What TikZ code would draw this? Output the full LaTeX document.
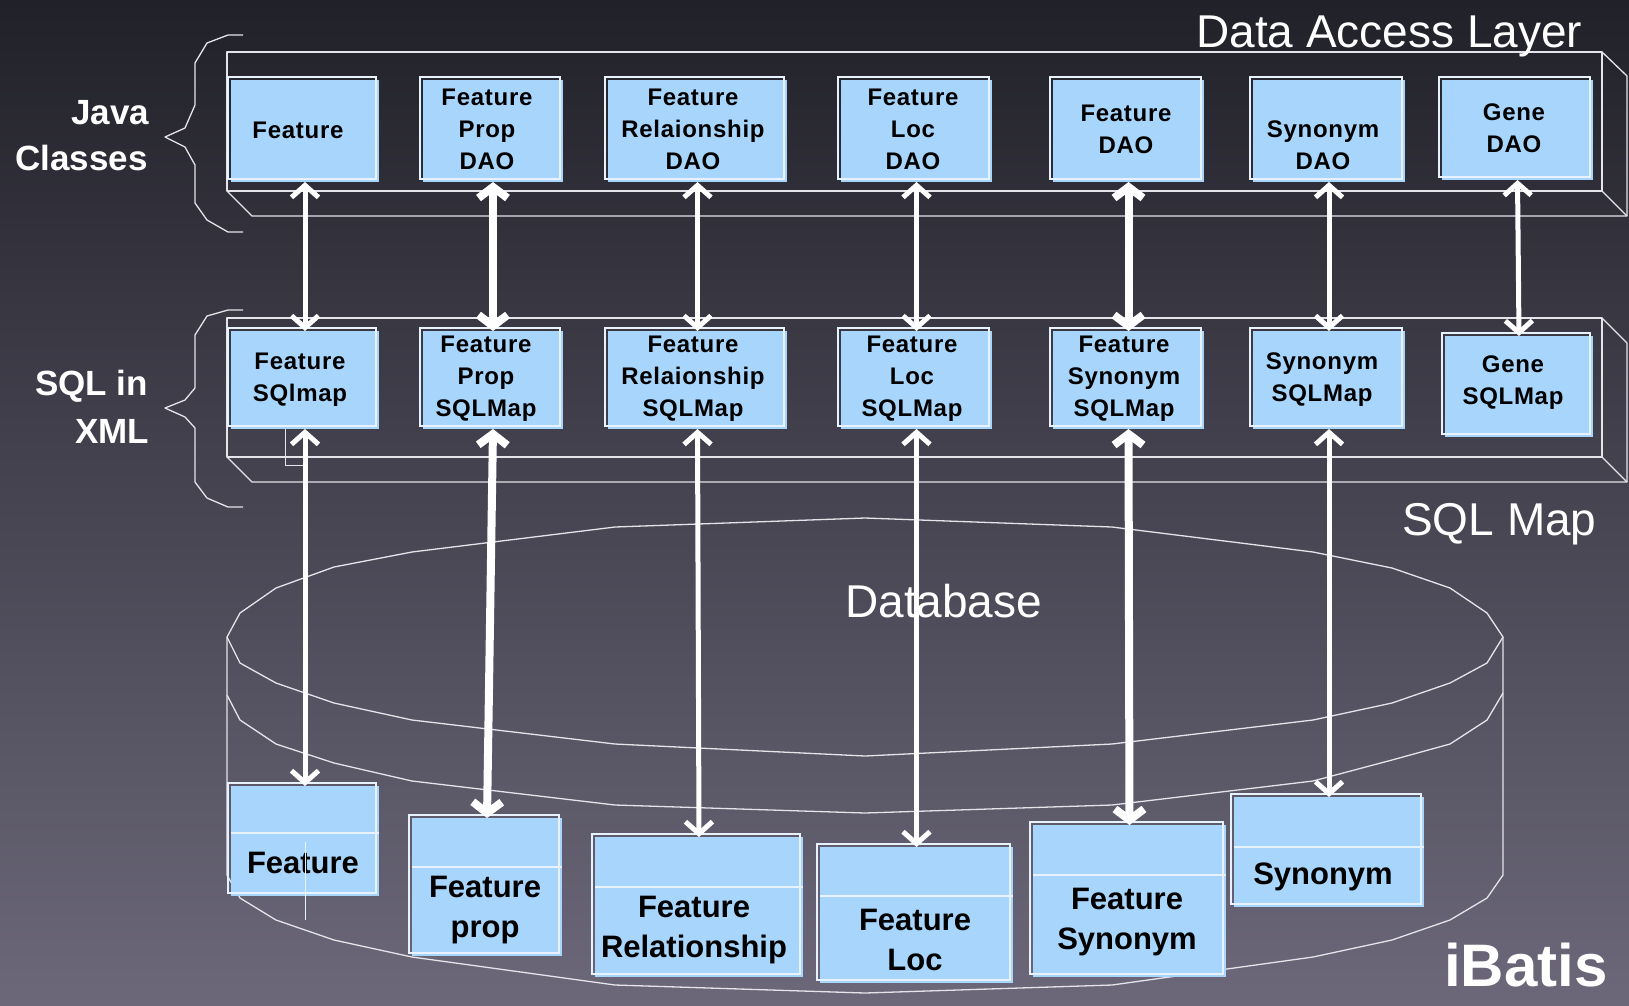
\documentclass[tikz,border=0pt]{standalone}
\usepackage{fontspec}
\setmainfont{Liberation Sans}
\newfontfamily\boxfont[LetterSpace=3]{Liberation Sans}
\usetikzlibrary{arrows.meta}
\definecolor{bgtop}{RGB}{33,33,41}
\definecolor{bgbot}{RGB}{108,104,122}
\definecolor{boxblue}{RGB}{168,213,251}
\definecolor{frameline}{RGB}{228,228,234}
\definecolor{boxedge}{RGB}{232,242,252}
\begin{document}
\begin{tikzpicture}[x=1pt,y=-1pt,
  frame/.style={draw=frameline, line width=1.3pt, line join=round},
  box/.style={fill=boxblue, draw=none, inner sep=0pt, outer sep=0pt},
  boxline/.style={draw=boxedge, line width=1.4pt},
  boxtxt/.style={font=\boxfont\bfseries\fontsize{24}{32}\selectfont, align=center, inner sep=0pt, text=black},
  tabtxt/.style={font=\bfseries\fontsize{31}{40}\selectfont, align=center, inner sep=0pt, text=black},
  sidetxt/.style={font=\bfseries\fontsize{35}{42}\selectfont, text=white, inner sep=0pt},
  titletxt/.style={font=\fontsize{46}{54}\selectfont, text=white, inner sep=0pt},
  arr/.style={draw=white, line width=5pt, {Straight Barb[length=12pt,width=27pt]}-{Straight Barb[length=12pt,width=27pt]}},
  arrthick/.style={draw=white, line width=8pt, {Straight Barb[length=11pt,width=29pt]}-{Straight Barb[length=11pt,width=29pt]}}
]
% background
\useasboundingbox (0,0) rectangle (1629,1005);
\shade[top color=bgtop, bottom color=bgbot] (0,0) rectangle (1629,1005);

% layer frames
\draw[frame] (227,52) rectangle (1602,191);
\draw[frame] (227,191) -- (252,216) -- (1627,216) -- (1627,76) -- (1602,52);
\draw[frame] (1602,191) -- (1627,216);
\draw[frame] (227,318) rectangle (1602,457);
\draw[frame] (227,457) -- (252,482) -- (1627,482) -- (1627,343) -- (1602,318);
\draw[frame] (1602,457) -- (1627,482);

% braces
\draw[frame] (243,35) -- (228,35) -- (207,43) -- (195,63) -- (195,105) -- (185,128) -- (165,137) -- (185,147) -- (195,165) -- (195,203) -- (207,220) -- (228,232) -- (243,232);
\draw[frame] (243,310) -- (228,310) -- (207,316) -- (195,335) -- (195,388) -- (185,400) -- (165,408) -- (185,417) -- (195,428) -- (195,482) -- (207,498) -- (228,507) -- (243,507);

% database cylinder
\draw[frame] (227,637) -- (240,613) -- (276,588) -- (334,567) -- (412,552) -- (615,527) -- (865,518) -- (1112,527) -- (1313,552) -- (1392,568) -- (1450,588) -- (1487,613) -- (1503,637)
  -- (1487,663) -- (1450,683) -- (1392,703) -- (1313,720) -- (1112,744) -- (865,756) -- (615,744) -- (412,720) -- (334,703) -- (276,683) -- (240,663) -- cycle;
\draw[frame] (227,695) -- (240,720) -- (276,744) -- (334,763) -- (412,781) -- (615,805) -- (865,813) -- (1112,805) -- (1313,781) -- (1392,760) -- (1450,744) -- (1487,720) -- (1503,693);
\draw[frame] (227,637) -- (227,875) -- (240,898) -- (276,920) -- (334,940) -- (412,957) -- (615,985) -- (865,993) -- (1112,985) -- (1313,957) -- (1392,940) -- (1450,920) -- (1487,898) -- (1503,875) -- (1503,637);

% titles
\node[titletxt, anchor=base west] (title) at (1196,47) {Data Access Layer};
\node[titletxt, anchor=base west] (sqlmaptitle) at (1402,535) {SQL Map};
\node[titletxt, anchor=base west] (dbtitle) at (845,617) {Database};
\node[font=\bfseries\fontsize{60}{70}\selectfont, text=white, inner sep=0pt, anchor=base west] (ibatis) at (1444,986) {iBatis};
\node[sidetxt, anchor=base west] (java) at (71,124) {Java};
\node[sidetxt, anchor=base west] (classes) at (15,170) {Classes};
\node[sidetxt, anchor=base west] (sqlin) at (35,395) {SQL in};
\node[sidetxt, anchor=base west] (xml) at (75,443) {XML};

% DAO row
\node[box, minimum width=148pt, minimum height=102pt] (d1) at (305,131) {};
\node[box, minimum width=140pt, minimum height=102pt] (d2) at (493,131) {};
\node[box, minimum width=179pt, minimum height=102pt] (d3) at (697.5,131) {};
\node[box, minimum width=151pt, minimum height=102pt] (d4) at (916.5,131) {};
\node[box, minimum width=151pt, minimum height=102pt] (d5) at (1128.5,131) {};
\node[box, minimum width=152pt, minimum height=102pt] (d6) at (1329,131) {};
\node[box, minimum width=151pt, minimum height=100pt] (d7) at (1517.5,130) {};
% SQLMap row
\node[box, minimum width=148pt, minimum height=98pt] (s1) at (305,380) {};
\node[box, minimum width=140pt, minimum height=98pt] (s2) at (493,380) {};
\node[box, minimum width=179pt, minimum height=98pt] (s3) at (697.5,380) {};
\node[box, minimum width=151pt, minimum height=98pt] (s4) at (916.5,380) {};
\node[box, minimum width=151pt, minimum height=98pt] (s5) at (1128.5,380) {};
\node[box, minimum width=152pt, minimum height=98pt] (s6) at (1329,380) {};
\node[box, minimum width=148pt, minimum height=101pt] (s7) at (1519,386.5) {};
% table boxes
\node[box, minimum width=148pt, minimum height=110pt] (t1) at (305,841) {};
\node[box, minimum width=150pt, minimum height=138pt] (t2) at (487,887) {};
\node[box, minimum width=208pt, minimum height=140pt] (t3) at (699,907) {};
\node[box, minimum width=193pt, minimum height=136pt] (t4) at (916.5,915) {};
\node[box, minimum width=193pt, minimum height=152pt] (t5) at (1129.5,901) {};
\node[box, minimum width=190pt, minimum height=110pt] (t6) at (1329,852) {};

% box outlines (offset light frames)
\foreach \n in {d1,d2,d3,d4,d5,d6,d7,s1,s2,s3,s4,s5,s6,s7,t1,t2,t3,t4,t5,t6}
  \draw[boxline] ([shift={(-3,-3)}]\n.north west) rectangle ([shift={(-3,-3)}]\n.south east);

% table dividers
\draw[boxline] (t1.west |- 0,833) -- (t1.east |- 0,833);
\draw[boxline] (t2.west |- 0,867) -- (t2.east |- 0,867);
\draw[boxline] (t3.west |- 0,887) -- (t3.east |- 0,887);
\draw[boxline] (t4.west |- 0,896) -- (t4.east |- 0,896);
\draw[boxline] (t5.west |- 0,875) -- (t5.east |- 0,875);
\draw[boxline] (t6.west |- 0,847) -- (t6.east |- 0,847);

% box texts
\node[boxtxt] (d1l) at (298,130) {Feature};
\node[boxtxt] (d2l) at (487,129) {Feature\\Prop\\DAO};
\node[boxtxt] (d3l) at (693,129) {Feature\\Relaionship\\DAO};
\node[boxtxt] (d4l) at (913,129) {Feature\\Loc\\DAO};
\node[boxtxt] (d5l) at (1126,129) {Feature\\DAO};
\node[boxtxt] (d6l) at (1323,145.5) {Synonym\\DAO};
\node[boxtxt] (d7l) at (1514,128.5) {Gene\\DAO};
\node[boxtxt] (s1l) at (300,379.5) {Feature\\SQlmap};
\node[boxtxt] (s2l) at (486,378.5) {Feature\\Prop\\SQLMap};
\node[boxtxt] (s3l) at (693,378.5) {Feature\\Relaionship\\SQLMap};
\node[boxtxt] (s4l) at (912,378.5) {Feature\\Loc\\SQLMap};
\node[boxtxt] (s5l) at (1124,378.5) {Feature\\Synonym\\SQLMap};
\node[boxtxt] (s6l) at (1322,379.5) {Synonym\\SQLMap};
\node[boxtxt] (s7l) at (1513,383) {Gene\\SQLMap};

\node[tabtxt] (t1l) at (303,863) {Feature};
\node[tabtxt] (t2l) at (485,910) {Feature\\prop};
\node[tabtxt] (t3l) at (694,930) {Feature\\Relationship};
\node[tabtxt] (t4l) at (915,940) {Feature\\Loc};
\node[tabtxt] (t5l) at (1127,922.5) {Feature\\Synonym};
\node[tabtxt] (t6l) at (1323,877) {Synonym};

% small stray lines
\coordinate (k1) at (285,465);
\coordinate (k2) at (305,465);
\draw[draw=frameline, line width=1pt] (s1.south -| k1) -- (k1) -- (k2);
\coordinate (v1) at (305,842);
\coordinate (v2) at (305,920);
\draw[draw=boxedge, line width=1pt] (v1) -- (v2);

% arrows DAO <-> SQLMap
\draw[arr] (d1.south) -- (s1.north);
\draw[arrthick] (d2.south) -- (s2.north);
\draw[arr] (d3.south) -- (s3.north);
\draw[arr] (d4.south) -- (s4.north);
\draw[arrthick] (d5.south) -- (s5.north);
\draw[arr] (d6.south) -- (s6.north);
\draw[arr] (d7.south) -- (s7.north);
% arrows SQLMap <-> tables
\draw[arr] (s1.south) -- (t1.north);
\draw[arrthick] (s2.south) -- (t2.north);
\draw[arr] (s3.south) -- (t3.north);
\draw[arr] (s4.south) -- (t4.north);
\draw[arrthick] (s5.south) -- (t5.north);
\draw[arr] (s6.south) -- (t6.north);
\end{tikzpicture}
\end{document}
